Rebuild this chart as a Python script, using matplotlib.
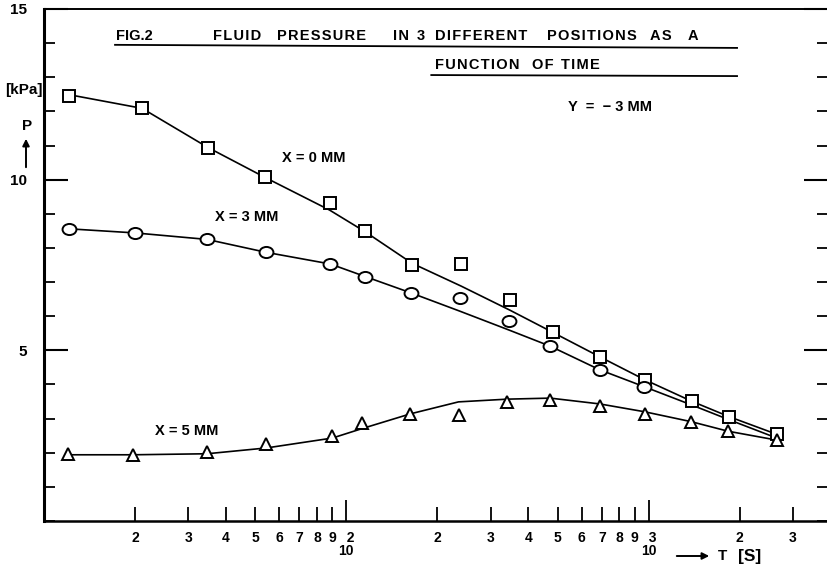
import numpy as np
import matplotlib.pyplot as plt
from matplotlib.ticker import FixedLocator, FixedFormatter, LogLocator, MultipleLocator, FuncFormatter
from matplotlib.lines import Line2D
from matplotlib.path import Path
from matplotlib.transforms import Affine2D

plt.rcParams['font.family'] = ['Liberation Sans', 'DejaVu Sans']

# measured points, T [s] and P [kPa]
t_0mm = [12.1, 21.1, 34.9, 54, 88, 115.6, 165, 240, 347, 481, 693, 970, 1387, 1841, 2654]
p_0mm = [12.46, 12.11, 10.94, 10.09, 9.32, 8.50, 7.50, 7.53, 6.47, 5.53, 4.80, 4.14, 3.51, 3.06, 2.54]
p_0mm_fit = [12.49, 12.09, 10.94, 10.06, 9.11, 8.47, 7.55, 6.88, 6.18, 5.53, 4.80, 4.14, 3.51, 3.06, 2.54]

t_3mm = [12.1, 20.0, 34.6, 54.4, 88.5, 115.6, 164, 237, 344, 473, 689, 963]
p_3mm = [8.56, 8.44, 8.25, 7.87, 7.53, 7.16, 6.68, 6.53, 5.85, 5.12, 4.43, 3.94]
t_3mm_fit = [12.1, 20.0, 34.6, 54.4, 88.5, 115.6, 164, 237, 344, 473, 689, 963, 1387, 1841, 2654]
p_3mm_fit = [8.56, 8.44, 8.25, 7.87, 7.53, 7.16, 6.68, 6.15, 5.60, 5.12, 4.43, 3.94, 3.40, 2.97, 2.43]

t_5mm = [12.0, 19.7, 34.6, 54.4, 89.9, 113, 163, 235, 341, 473, 689, 970, 1383, 1832, 2654]
p_5mm = [1.97, 1.94, 2.03, 2.26, 2.49, 2.86, 3.14, 3.11, 3.49, 3.54, 3.37, 3.14, 2.89, 2.63, 2.37]
p_5mm_fit = [1.94, 1.94, 1.97, 2.14, 2.43, 2.71, 3.14, 3.49, 3.57, 3.60, 3.43, 3.20, 2.91, 2.63, 2.37]

decade_labels = ['  2\n10', '  3\n10']
title_words = ['FLUID', 'PRESSURE', 'IN', '3', 'DIFFERENT', 'POSITIONS', 'AS', 'A']
subtitle_words = ['FUNCTION', 'OF', 'TIME']


def spaced(word):
    # typewriter look: hair space between letters
    return '\u200a'.join(word)


fig = plt.figure(figsize=(8.28, 5.69), dpi=100)
ax = fig.add_axes([44/828, 48/569, 1 - 44/828, 512/569])

# hand drawn curves
ax.plot(t_0mm, p_0mm_fit, color='black', lw=1.2)
ax.plot(t_3mm_fit, p_3mm_fit, color='black', lw=1.2)
ax.plot(t_5mm, p_5mm_fit, color='black', lw=1.2)

ellipse = Path.unit_circle().transformed(Affine2D().scale(1.25, 1.0))
ax.plot(t_0mm, p_0mm, 's', ms=8, mfc='white', mec='black', mew=1.4)
ax.plot(t_3mm, p_3mm, ls='none', marker=ellipse, ms=10, mfc='white', mec='black', mew=1.4)
ax.plot(t_5mm, p_5mm, '^', ms=9, mfc='white', mec='black', mew=1.4)

ax.set_xscale('log')
ax.set_xlim(10, 3920)
ax.set_ylim(0, 15)

ax.xaxis.set_major_locator(FixedLocator([100, 1000]))
ax.xaxis.set_major_formatter(FixedFormatter(decade_labels))
ax.xaxis.set_minor_locator(LogLocator(base=10, subs=np.arange(2, 10)))
ax.xaxis.set_minor_formatter(FuncFormatter(lambda v, pos: '%d' % round(v / 10 ** np.floor(np.log10(v) + 1e-9))))
ax.tick_params(axis='x', which='major', direction='in', length=15, width=1.3, pad=7, labelsize=10)
ax.tick_params(axis='x', which='minor', direction='in', length=10, width=1.3, pad=7, labelsize=10)
for lab in ax.get_xticklabels():
    lab.set_linespacing(0.95)
    lab.set_fontweight('bold')
for lab in ax.get_xticklabels(minor=True):
    lab.set_fontweight('bold')

ax.yaxis.set_major_locator(FixedLocator([5, 10, 15]))
ax.yaxis.set_minor_locator(MultipleLocator(1))
ax.tick_params(axis='y', which='major', direction='in', length=17, width=1.5, pad=12,
               labelsize=11, right=True)
ax.tick_params(axis='y', which='minor', direction='in', length=8, width=1.3, right=True)
for lab in ax.get_yticklabels():
    lab.set_fontweight('bold')

ax.spines['right'].set_visible(False)
ax.spines['left'].set_linewidth(2.2)
ax.spines['bottom'].set_linewidth(1.8)
ax.spines['top'].set_linewidth(1.4)

# title block, words spaced out like the typed original
ax.text(0.092, 0.947, 'FIG.2', transform=ax.transAxes, fontsize=10.5, fontweight='bold', va='center')
word_x = [0.2156, 0.2972, 0.4452, 0.4755, 0.4987, 0.6416, 0.773, 0.8214]
for w, x in zip(title_words, word_x):
    ax.text(x, 0.947, spaced(w), transform=ax.transAxes, fontsize=10.5, fontweight='bold', va='center')
for w, x in zip(subtitle_words, [0.4987, 0.6224, 0.660]):
    ax.text(x, 0.891, spaced(w), transform=ax.transAxes, fontsize=10.5, fontweight='bold', va='center')
ax.add_line(Line2D([0.0906, 0.884], [0.930, 0.924], transform=ax.transAxes, color='black', lw=1.3))
ax.add_line(Line2D([0.494, 0.884], [0.871, 0.869], transform=ax.transAxes, color='black', lw=1.3))
ax.text(0.668, 0.809, 'Y  =  \u2212 3 MM', transform=ax.transAxes, fontsize=10.5,
        fontweight='bold', va='center')

ax.text(0.3036, 0.709, 'X = 0 MM', transform=ax.transAxes, fontsize=10.5, fontweight='bold', va='center')
ax.text(0.218, 0.594, 'X = 3 MM', transform=ax.transAxes, fontsize=10.5, fontweight='bold', va='center')
ax.text(0.1416, 0.176, 'X = 5 MM', transform=ax.transAxes, fontsize=10.5, fontweight='bold', va='center')

# axis labels
fig.text(24/828, 1 - 90/569, '[kPa]', fontsize=11, fontweight='bold', ha='center', va='center')
fig.text(27/828, 1 - 126/569, 'P', fontsize=11, fontweight='bold', ha='center', va='center')
fig.add_artist(plt.Annotation('', xy=(26/828, 1 - 136/569), xytext=(26/828, 1 - 170/569),
                              xycoords='figure fraction', textcoords='figure fraction',
                              arrowprops=dict(arrowstyle='-|>', color='black', lw=1.4,
                                              mutation_scale=10)))
fig.add_artist(plt.Annotation('', xy=(712/828, 1 - 556/569), xytext=(674/828, 1 - 556/569),
                              xycoords='figure fraction', textcoords='figure fraction',
                              arrowprops=dict(arrowstyle='-|>', color='black', lw=1.4,
                                              mutation_scale=10)))
fig.text(718/828, 1 - 556/569, 'T', fontsize=11, fontweight='bold', va='center')
fig.text(738/828, 1 - 556/569, '[S]', fontsize=12.5, fontweight='bold', va='center')

fig.savefig('out.png', dpi=100)
